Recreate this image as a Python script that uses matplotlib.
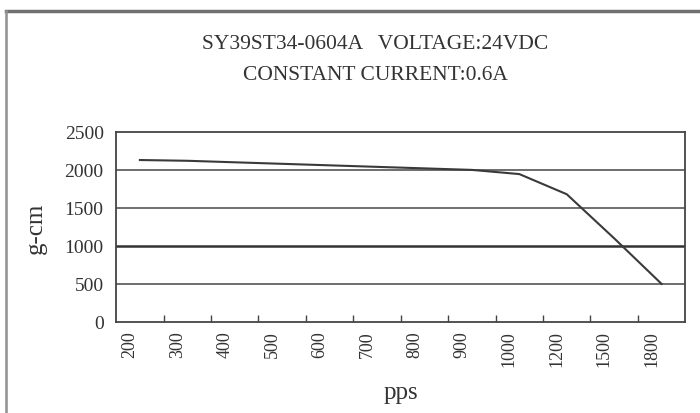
import matplotlib.pyplot as plt
import matplotlib.transforms as mtransforms
from matplotlib.lines import Line2D

speeds = ['200', '300', '400', '500', '600', '700', '800', '900',
          '1000', '1200', '1500', '1800']
torque = [2130, 2120, 2100, 2080, 2060, 2040, 2020, 2000,
          1945, 1680, 1100, 500]
yticks = [0, 500, 1000, 1500, 2000, 2500]

plt.rcParams['font.family'] = 'Liberation Serif'
txt = '#333333'

fig = plt.figure(figsize=(7, 4.14), dpi=100)
ax = fig.add_axes([0.166, 0.22, 0.813, 0.459])

# outer frame (top + left edge like the scan)
fig.add_artist(Line2D([0.008, 1.0], [0.972, 0.972], color='#707070', lw=2.5,
                      transform=fig.transFigure))
fig.add_artist(Line2D([0.008, 0.008], [0.0, 0.972], color='#909090', lw=1.8,
                      transform=fig.transFigure))

x = list(range(len(speeds)))
for v in yticks[1:-1]:
    ax.axhline(v, color='#555555' if v != 1000 else '#333333',
               lw=1.2 if v != 1000 else 1.8, zorder=1)
ax.plot(x, torque, color='#3a3a3a', lw=1.5, zorder=3)

ax.set_xlim(-0.5, len(speeds) - 0.5)
ax.set_ylim(0, 2500)
ax.set_yticks(yticks)
ax.set_yticklabels([str(v) for v in yticks], fontsize=14, color=txt)
ax.tick_params(axis='y', length=0, pad=9)

ax.set_xticks([i + 0.5 for i in range(len(speeds) - 1)])
ax.set_xticklabels([])
ax.tick_params(axis='x', which='major', direction='in', length=5,
               color='#444444', width=1)
ax.set_xticks(x, minor=True)
ax.set_xticklabels(speeds, minor=True, rotation=90, fontsize=13, color=txt)
ax.tick_params(axis='x', which='minor', length=0, pad=6)
off = mtransforms.ScaledTranslation(-10 / 100, 0, fig.dpi_scale_trans)
for lab in ax.xaxis.get_minorticklabels():
    lab.set_transform(lab.get_transform() + off)

for s in ax.spines.values():
    s.set_color('#444444')
    s.set_linewidth(1.3)

ax.set_ylabel('g-cm', fontsize=18, color=txt, labelpad=13)
ax.set_xlabel('pps', fontsize=18, color=txt, labelpad=11)

fig.text(0.536, 0.893, 'SY39ST34-0604A   VOLTAGE:24VDC', ha='center',
         va='center', fontsize=15.5, color=txt)
fig.text(0.536, 0.818, 'CONSTANT CURRENT:0.6A', ha='center', va='center',
         fontsize=15.5, color=txt)

plt.savefig('out.png', dpi=100)
plt.close()
